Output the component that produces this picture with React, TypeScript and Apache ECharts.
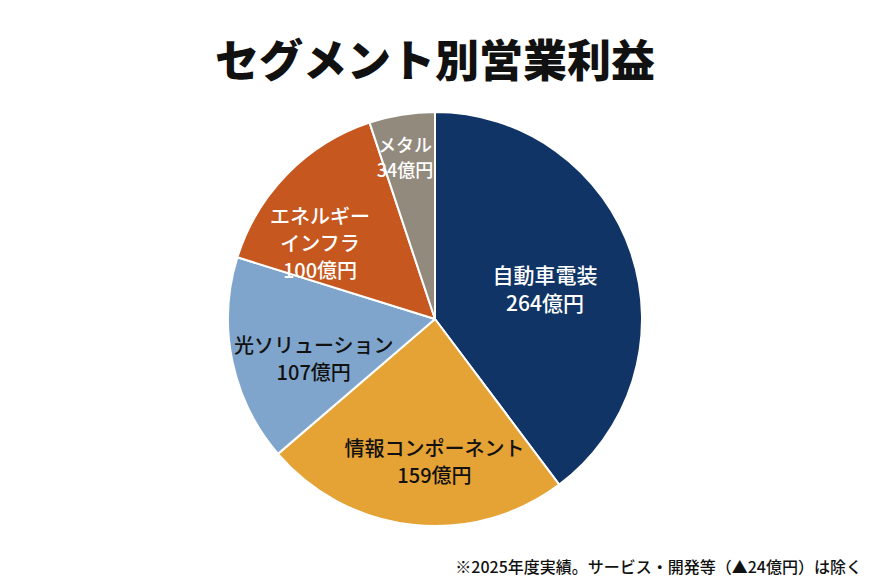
import React, { useEffect, useRef } from "react";
import * as echarts from "echarts";

const titleText = "セグメント別営業利益";
const footnote = "※2025年度実績。サービス・開発等（▲24億円）は除く";
const segments = ["自動車電装", "情報コンポーネント", "光ソリューション", "エネルギー\nインフラ", "メタル"];
const profits = [264, 159, 107, 100, 34];
const unit = "億円";

const colors = ["#0f3465", "#e5a235", "#80a5cc", "#c5571f", "#928a7c"];
const labelColors = ["#ffffff", "#111111", "#111111", "#ffffff", "#ffffff"];
const labelOffsets = [
  [9, 3],
  [11, 36],
  [-17, 17],
  [-39, -2],
  [-13, -57],
];
const labelSizes = [21, 20, 20, 20, 18];

const FONT = '"Noto Sans CJK JP", "Noto Sans", sans-serif';

export default function App() {
  const ref = useRef<HTMLDivElement>(null);
  useEffect(() => {
    if (!ref.current) return;
    const chart = echarts.init(ref.current, undefined, { renderer: "svg" });
    chart.setOption({
      animation: false,
      backgroundColor: "#ffffff",
      title: {
        text: titleText,
        left: "center",
        top: 31,
        textStyle: { fontFamily: FONT, fontSize: 44, fontWeight: 900, color: "#111111" },
      },
      graphic: [
        {
          type: "text",
          x: 862,
          y: 566,
          style: {
            text: footnote,
            fontFamily: FONT,
            fontSize: 16,
            fontWeight: 500,
            fill: "#111111",
            textAlign: "right",
            textVerticalAlign: "middle",
          },
        },
      ],
      series: [
        {
          type: "pie",
          center: [435, 319],
          radius: 207,
          startAngle: 90,
          clockwise: true,
          avoidLabelOverlap: false,
          itemStyle: { borderColor: "#ffffff", borderWidth: 2 },
          labelLine: { show: false },
          data: segments.map((name, i) => ({
            name,
            value: profits[i],
            itemStyle: { color: colors[i] },
            label: {
              show: true,
              position: "inside",
              offset: labelOffsets[i],
              color: labelColors[i],
              fontSize: labelSizes[i],
              fontWeight: 500,
              lineHeight: labelSizes[i] + 7,
              fontFamily: FONT,
              align: "center",
              formatter: (p: any) => `${p.name}\n${p.value}${unit}`,
            },
          })),
        },
      ],
    });
    return () => chart.dispose();
  }, []);
  return (
    <div
      ref={ref}
      style={{ position: "absolute", left: 0, top: 0, width: 870, height: 583, background: "#fff" }}
    />
  );
}
